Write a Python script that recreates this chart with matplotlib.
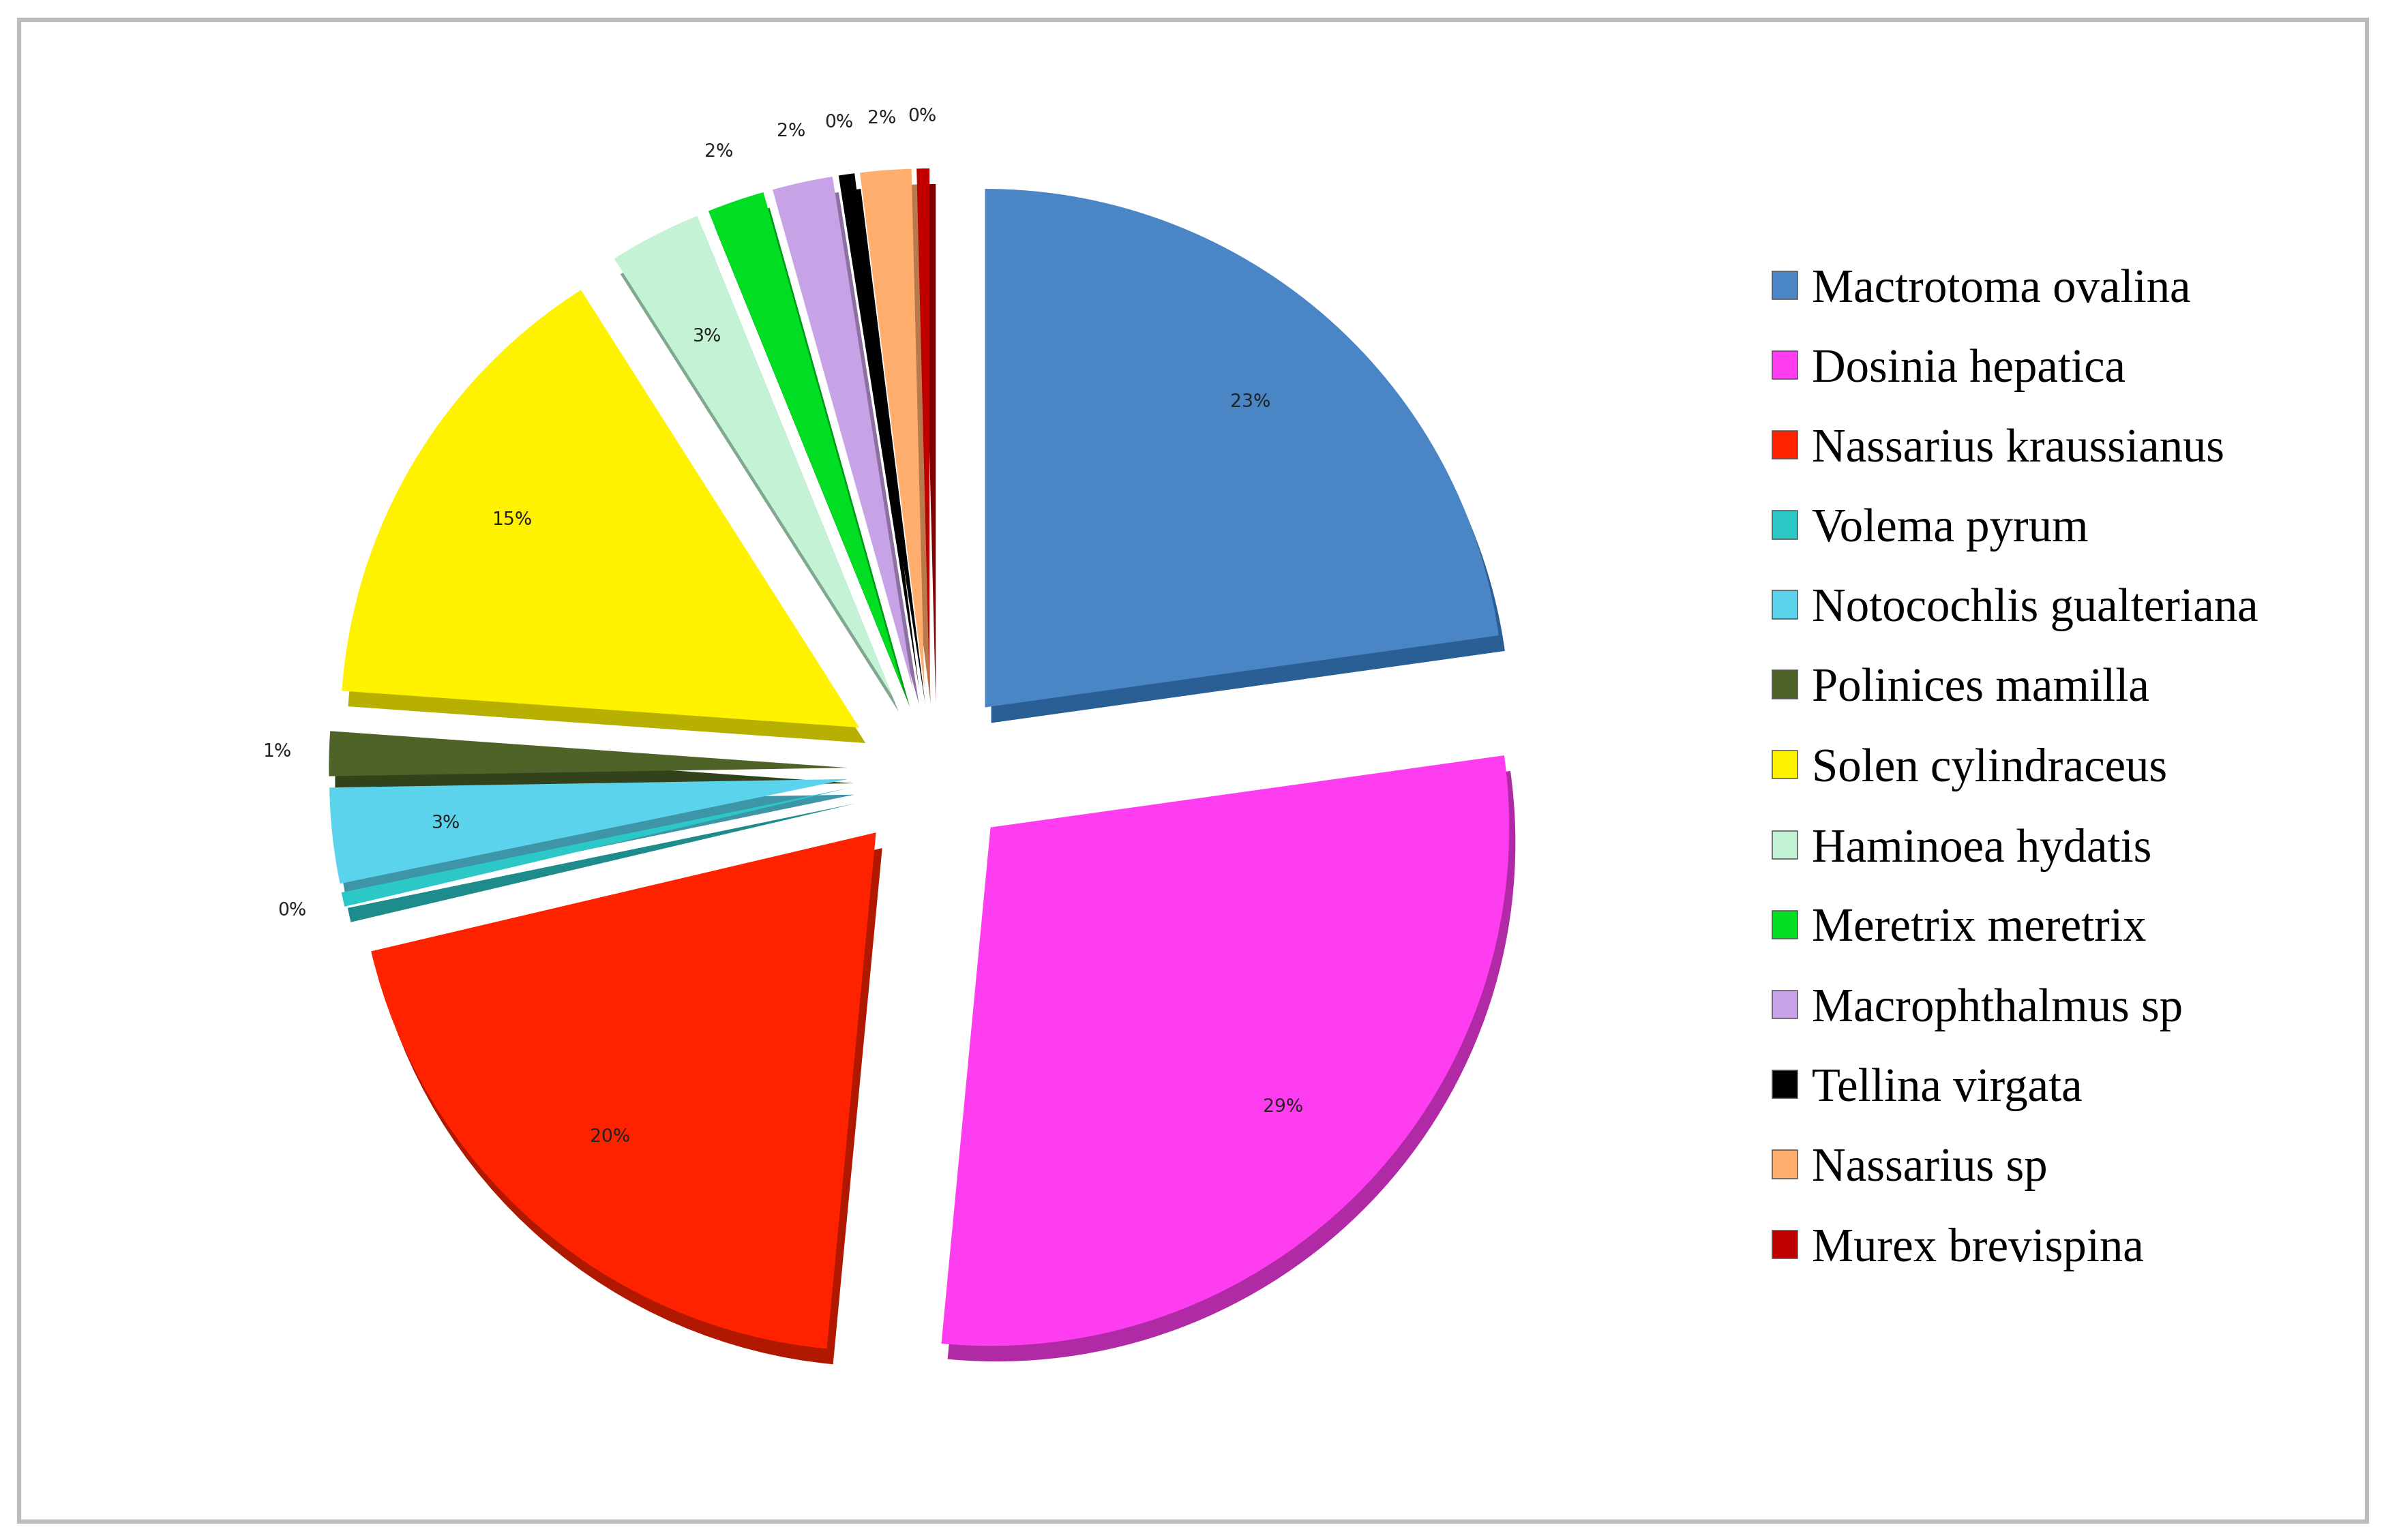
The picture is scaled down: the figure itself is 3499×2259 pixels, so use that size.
import numpy as np
import matplotlib.pyplot as plt
from matplotlib.patches import Rectangle

# =========================
# DATA
# =========================
species = ["Mactrotoma ovalina", "Dosinia hepatica", "Nassarius kraussianus",
           "Volema pyrum", "Notocochlis gualteriana", "Polinices mamilla",
           "Solen cylindraceus", "Haminoea hydatis", "Meretrix meretrix",
           "Macrophthalmus sp", "Tellina virgata", "Nassarius sp",
           "Murex brevispina"]
shares = [23, 29, 20, 0.45, 3, 1.4, 15, 2.9, 1.8, 1.9, 0.5, 1.6, 0.4]
pct_labels = ["23%", "29%", "20%", "0%", "3%", "1%", "15%", "3%",
              "2%", "2%", "0%", "2%", "0%"]
colors = ["#4A86C5", "#FF3DF0", "#FF2200", "#2CC8C8", "#5CD3EC", "#4F6228",
          "#FFF200", "#C4F2D4", "#00DD22", "#C8A2E6", "#000000", "#FFAE6E",
          "#C00000"]
shadow = ["#2A5F95", "#B02AA5", "#B01800", "#1E8C8C", "#3E95A8", "#33421A",
          "#B8B000", "#7FA88E", "#009918", "#8C70A2", "#000000", "#B87A4C",
          "#800000"]

fig = plt.figure(figsize=(3499 / 225, 2259 / 225), dpi=225)
fig.patches.append(Rectangle((0.008, 0.012), 0.984, 0.975, transform=fig.transFigure,
                             fill=False, edgecolor="#BBBBBB", linewidth=2))

ax = fig.add_axes([0.09, 0.03, 0.6, 0.94])
explode = [0.16] * len(shares)

# shadow layer for a bit of depth
ax.pie(shares, colors=shadow, startangle=90, counterclock=False, explode=explode,
       center=(0.012, -0.03), wedgeprops=dict(linewidth=0))
wedges, _ = ax.pie(shares, colors=colors, startangle=90, counterclock=False,
                   explode=explode, wedgeprops=dict(linewidth=0))

for w, lab, s in zip(wedges, pct_labels, shares):
    ang = np.deg2rad((w.theta1 + w.theta2) / 2)
    cx, cy = w.center
    r = 0.78 if s >= 2.5 else 1.1
    ax.text(cx + r * np.cos(ang), cy + r * np.sin(ang), lab, ha="center",
            va="center", fontsize=8.5, color="#222222")

ax.set_xlim(-1.38, 1.38)
ax.set_ylim(-1.35, 1.35)
ax.set_aspect("equal")

handles = [Rectangle((0, 0), 1, 1, facecolor=c, edgecolor="#555555", linewidth=0.5)
           for c in colors]
fig.legend(handles, species, loc="center left", bbox_to_anchor=(0.725, 0.5),
           frameon=False, prop={"family": "Liberation Serif", "size": 22},
           handlelength=0.55, handleheight=0.55, handletextpad=0.3,
           labelspacing=0.78)

fig.savefig("out.png", dpi=225)
